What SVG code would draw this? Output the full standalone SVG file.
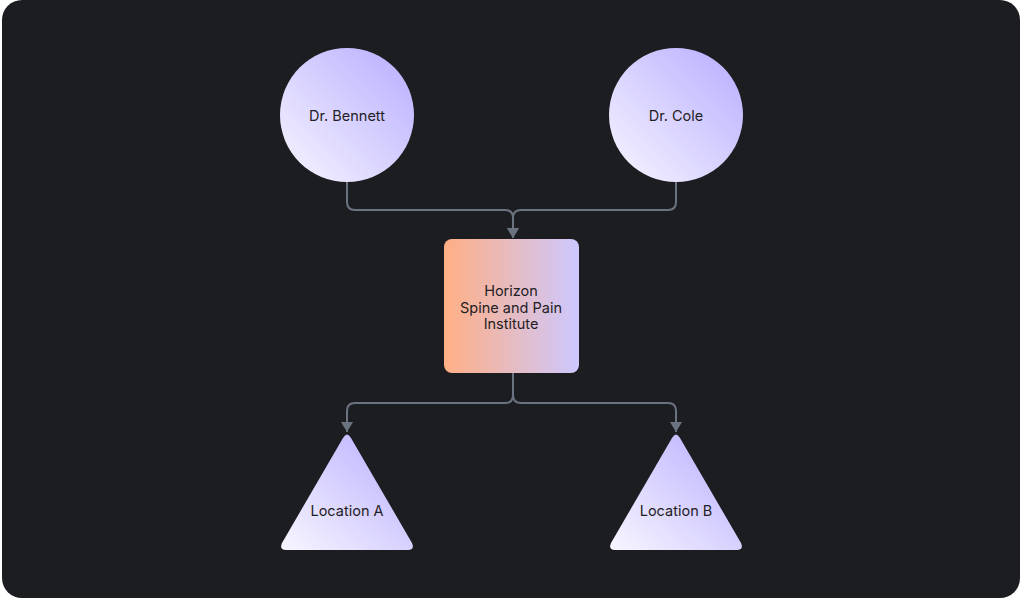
<svg xmlns="http://www.w3.org/2000/svg" width="1022" height="600" viewBox="0 0 1022 600">
<defs>
<linearGradient id="gLav" x1="0" y1="1" x2="1" y2="0">
<stop offset="0" stop-color="#f8f6ff"/>
<stop offset="1" stop-color="#b6acff"/>
</linearGradient>
<linearGradient id="gBox" x1="0" y1="0" x2="1" y2="0">
<stop offset="0" stop-color="#ffaf84"/>
<stop offset="1" stop-color="#cdc8ff"/>
</linearGradient>
<marker id="arr" viewBox="0 0 10 12" refX="10" refY="6" markerWidth="10" markerHeight="12" markerUnits="userSpaceOnUse" orient="auto">
<path d="M0,0 L10,6 L0,12 z" fill="#6b7280"/>
</marker>
<style>
.lbl{font-family:Inter,"Noto Sans",sans-serif;font-size:14.5px;fill:#1f2023;text-anchor:middle}
.con{fill:none;stroke:#6b7280;stroke-width:2}
</style>
</defs>
<rect x="0" y="0" width="1022" height="600" fill="#ffffff"/>
<rect x="2" y="0" width="1018" height="598" rx="20" fill="#1c1d21"/>
<g id="connectors">
<path class="con" d="M347,182 V202 Q347,210 355,210 H505 Q513,210 513,218 V238" marker-end="url(#arr)"/>
<path class="con" d="M676,182 V202 Q676,210 668,210 H521 Q513,210 513,218 V238" marker-end="url(#arr)"/>
<path class="con" d="M513,373 V395 Q513,403 505,403 H355 Q347,403 347,411 V432" marker-end="url(#arr)"/>
<path class="con" d="M513,373 V395 Q513,403 521,403 H668 Q676,403 676,411 V432" marker-end="url(#arr)"/>
</g>
<g id="bennett">
<circle cx="347" cy="115" r="67" fill="url(#gLav)"/>
<text class="lbl" x="347" y="121">Dr. Bennett</text>
</g>
<g id="cole">
<circle cx="676" cy="115" r="67" fill="url(#gLav)"/>
<text class="lbl" x="676" y="121">Dr. Cole</text>
</g>
<g id="institute">
<rect x="444" y="239" width="135" height="134" rx="8" fill="url(#gBox)"/>
<text class="lbl" x="511" y="296">Horizon</text>
<text class="lbl" x="511" y="313">Spine and Pain</text>
<text class="lbl" x="511" y="329">Institute</text>
</g>
<g id="locA">
<path d="M343,438 Q347,431 351,438 L412,543 Q415,550 408,550 L286,550 Q279,550 282,543 Z" fill="url(#gLav)"/>
<text class="lbl" x="347" y="516">Location A</text>
</g>
<g id="locB">
<path d="M672,438 Q676,431 680,438 L741,543 Q744,550 737,550 L615,550 Q608,550 611,543 Z" fill="url(#gLav)"/>
<text class="lbl" x="676" y="516">Location B</text>
</g>
</svg>
